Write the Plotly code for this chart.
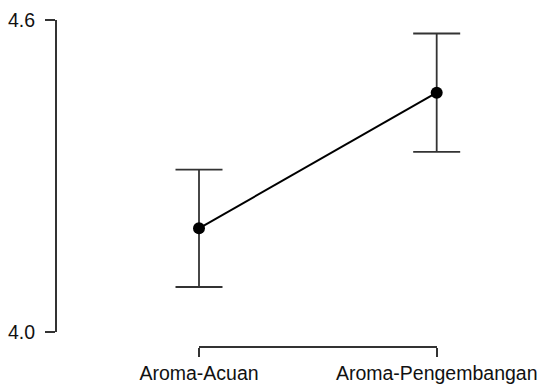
import plotly.graph_objects as go

categories = ["Aroma-Acuan", "Aroma-Pengembangan"]
means = [4.199, 4.460]
errors = [0.113, 0.114]
y_tick_vals = [4.0, 4.6]
y_tick_text = ["4.0", "4.6"]

FONT = dict(family="Liberation Sans, Arial, sans-serif", size=19.5, color="#111111")
AX = "#333333"

fig = go.Figure()
# carrier trace for the bracket-style category axis (drawn first, underneath)
fig.add_trace(go.Scatter(
    x=categories, y=[None, None], mode="markers", xaxis="x2", yaxis="y",
    showlegend=False, hoverinfo="skip",
))
fig.add_trace(go.Scatter(
    x=categories, y=means, mode="lines+markers",
    line=dict(color="black", width=2),
    marker=dict(color="black", size=12),
    error_y=dict(type="data", array=errors, visible=True, color=AX, thickness=1.8, width=23.5),
    xaxis="x", yaxis="y", showlegend=False, hoverinfo="skip", cliponaxis=False,
))

fig.update_layout(
    width=540, height=385,
    margin=dict(l=57, r=20, t=20, b=38),
    paper_bgcolor="white", plot_bgcolor="rgba(0,0,0,0)",
    font=FONT,
    xaxis=dict(type="category", range=[-0.5974, 1.3505], domain=[0, 1], visible=False,
               automargin=False),
    xaxis2=dict(type="category", range=[0, 1], domain=[0.3067, 0.8201],
                anchor="free", position=0, showline=True, linecolor=AX, linewidth=2,
                ticks="outside", ticklen=9, tickwidth=2, tickcolor=AX,
                showgrid=False, zeroline=False, tickfont=FONT, automargin=False),
    yaxis=dict(range=[4.0, 4.6], domain=[0.0468, 1], anchor="x",
               tickvals=y_tick_vals, ticktext=y_tick_text,
               showline=True, linecolor=AX, linewidth=2,
               ticks="outside", ticklen=10, tickwidth=2, tickcolor=AX,
               showgrid=False, zeroline=False, tickfont=FONT, ticklabelstandoff=6,
               automargin=False),
)

fig.write_html(
    "out.html",
    config={"displayModeBar": False, "staticPlot": True},
    post_script="document.body.style.margin='0';document.body.style.overflow='hidden';",
)
